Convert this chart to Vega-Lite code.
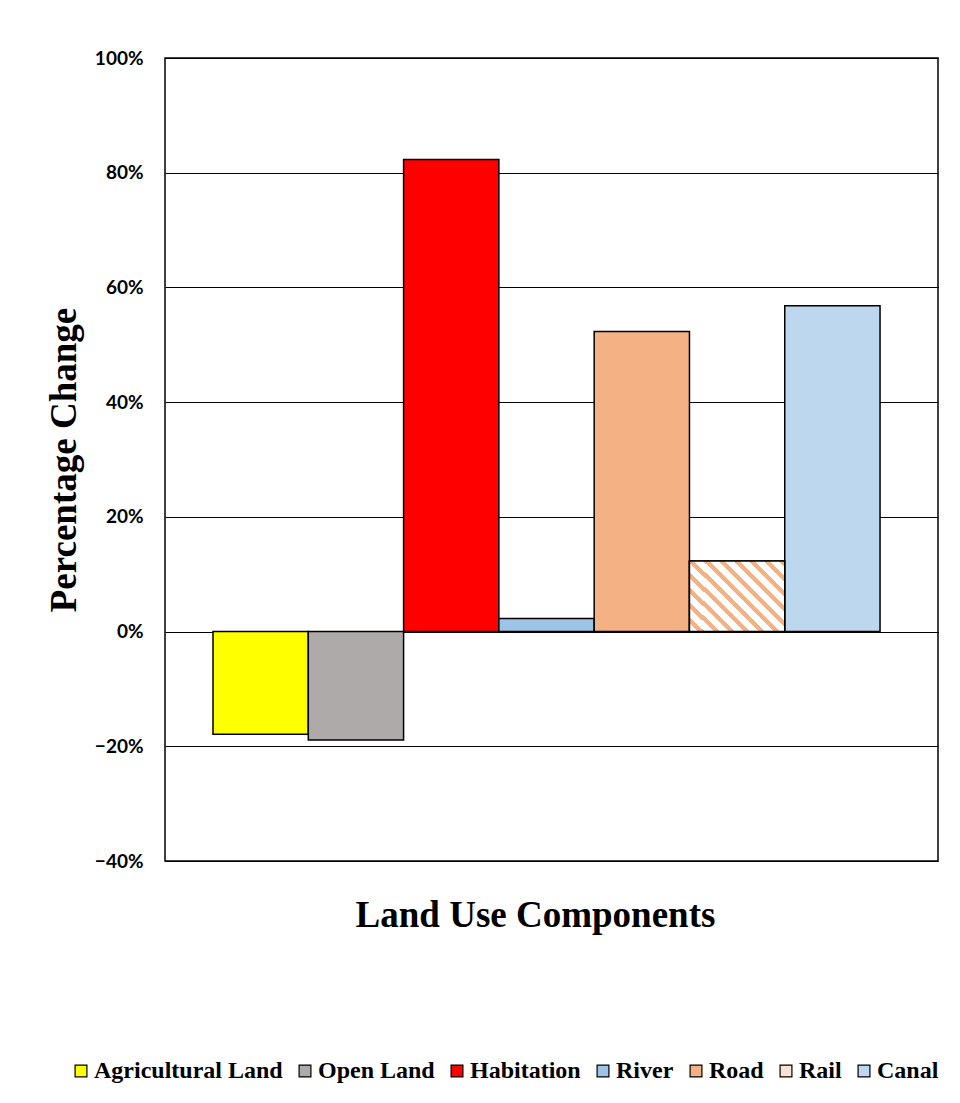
{
  "$schema": "https://vega.github.io/schema/vega-lite/v6.json",
  "width": 773,
  "height": 803,
  "autosize": {"type": "none"},
  "padding": {"left": 165, "top": 58, "right": 22, "bottom": 242},
  "background": "white",
  "config": {
    "view": {"stroke": "black", "strokeWidth": 1.5},
    "axis": {"domain": false, "ticks": false}
  },
  "data": {
    "values": [
      {"component": "Agricultural Land", "change": -0.179},
      {"component": "Open Land", "change": -0.189},
      {"component": "Habitation", "change": 0.823},
      {"component": "River", "change": 0.023},
      {"component": "Road", "change": 0.523},
      {"component": "Rail", "change": 0.123},
      {"component": "Canal", "change": 0.568}
    ]
  },
  "encoding": {
    "x": {
      "field": "component",
      "type": "nominal",
      "sort": null,
      "scale": {"paddingInner": 0, "paddingOuter": 0.556, "align": 0.453},
      "axis": {
        "labels": false,
        "title": "Land Use Components",
        "titleFont": "Liberation Serif",
        "titleFontWeight": "bold",
        "titleFontSize": 37,
        "titleColor": "black",
        "titleBaseline": "alphabetic",
        "titleAlign": "center",
        "titleY": 65,
        "titleX": 370
      }
    },
    "y": {
      "field": "change",
      "type": "quantitative",
      "scale": {"domain": [-0.4, 1.0], "nice": false, "zero": false},
      "axis": {
        "values": [-0.4, -0.2, 0, 0.2, 0.4, 0.6, 0.8, 1.0],
        "format": ".0%",
        "grid": true,
        "gridColor": "black",
        "gridWidth": 1,
        "gridOpacity": 1,
        "labelFont": "Lato",
        "labelFontWeight": "bold",
        "labelFontSize": 19,
        "labelColor": "black",
        "labelPadding": 22,
        "title": "Percentage Change",
        "titleFont": "Liberation Serif",
        "titleFontWeight": "bold",
        "titleFontSize": 37,
        "titleColor": "black",
        "titleAngle": -90,
        "titleAlign": "center",
        "titleBaseline": "bottom",
        "titleX": -82,
        "titleY": 401.5
      }
    }
  },
  "layer": [
    {
      "mark": {"type": "bar", "stroke": "black", "strokeWidth": 1.5, "strokeOpacity": 1, "fillOpacity": 1},
      "encoding": {
        "fill": {
          "field": "component",
          "type": "nominal",
          "sort": null,
          "scale": {
            "domain": ["Agricultural Land", "Open Land", "Habitation", "River", "Road", "Rail", "Canal"],
            "range": ["#FFFF00", "#AEAAAA", "#FF0000", "#9DC3E6", "#F4B183", "#FBE3D3", "#BDD7EE"]
          },
          "legend": {
            "orient": "none",
            "direction": "horizontal",
            "columns": 7,
            "legendX": -96,
            "legendY": 1001,
            "title": null,
            "symbolType": "square",
            "symbolSize": 140,
            "symbolStrokeColor": "black",
            "symbolStrokeWidth": 1.2,
            "symbolOpacity": 1,
            "labelFont": "Liberation Serif",
            "labelFontWeight": "bold",
            "labelFontSize": 24,
            "labelColor": "black",
            "labelOffset": 1,
            "columnPadding": 10,
            "labelLimit": 300
          }
        }
      }
    },
    {
      "transform": [{"filter": "datum.component === 'Rail'"}],
      "mark": {
        "type": "bar",
        "stroke": "black",
        "strokeWidth": 1.5,
        "fill": {
          "gradient": "linear",
          "x1": 0, "y1": 1, "x2": 1.121, "y2": 0.162,
          "stops": [
            {"offset": 0.0, "color": "#FFFFFF"}, {"offset": 0.0545, "color": "#FFFFFF"}, {"offset": 0.0545, "color": "#F4B183"}, {"offset": 0.0909, "color": "#F4B183"},
            {"offset": 0.0909, "color": "#FFFFFF"}, {"offset": 0.1455, "color": "#FFFFFF"}, {"offset": 0.1455, "color": "#F4B183"}, {"offset": 0.1818, "color": "#F4B183"},
            {"offset": 0.1818, "color": "#FFFFFF"}, {"offset": 0.2364, "color": "#FFFFFF"}, {"offset": 0.2364, "color": "#F4B183"}, {"offset": 0.2727, "color": "#F4B183"},
            {"offset": 0.2727, "color": "#FFFFFF"}, {"offset": 0.3273, "color": "#FFFFFF"}, {"offset": 0.3273, "color": "#F4B183"}, {"offset": 0.3636, "color": "#F4B183"},
            {"offset": 0.3636, "color": "#FFFFFF"}, {"offset": 0.4182, "color": "#FFFFFF"}, {"offset": 0.4182, "color": "#F4B183"}, {"offset": 0.4545, "color": "#F4B183"},
            {"offset": 0.4545, "color": "#FFFFFF"}, {"offset": 0.5091, "color": "#FFFFFF"}, {"offset": 0.5091, "color": "#F4B183"}, {"offset": 0.5455, "color": "#F4B183"},
            {"offset": 0.5455, "color": "#FFFFFF"}, {"offset": 0.6, "color": "#FFFFFF"}, {"offset": 0.6, "color": "#F4B183"}, {"offset": 0.6364, "color": "#F4B183"},
            {"offset": 0.6364, "color": "#FFFFFF"}, {"offset": 0.6909, "color": "#FFFFFF"}, {"offset": 0.6909, "color": "#F4B183"}, {"offset": 0.7273, "color": "#F4B183"},
            {"offset": 0.7273, "color": "#FFFFFF"}, {"offset": 0.7818, "color": "#FFFFFF"}, {"offset": 0.7818, "color": "#F4B183"}, {"offset": 0.8182, "color": "#F4B183"},
            {"offset": 0.8182, "color": "#FFFFFF"}, {"offset": 0.8727, "color": "#FFFFFF"}, {"offset": 0.8727, "color": "#F4B183"}, {"offset": 0.9091, "color": "#F4B183"},
            {"offset": 0.9091, "color": "#FFFFFF"}, {"offset": 0.9636, "color": "#FFFFFF"}, {"offset": 0.9636, "color": "#F4B183"}, {"offset": 1.0, "color": "#F4B183"}
          ]
        }
      }
    }
  ]
}
